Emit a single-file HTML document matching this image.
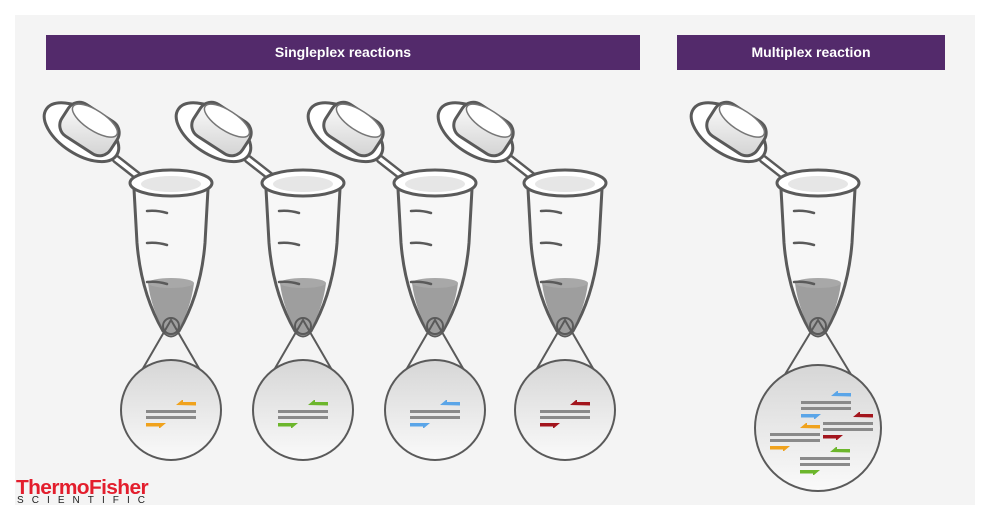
<!DOCTYPE html>
<html><head><meta charset="utf-8"><style>
html,body{margin:0;padding:0;background:#fff;}
svg{display:block;font-family:"Liberation Sans",sans-serif;}
</style></head><body>
<svg width="991" height="521" viewBox="0 0 991 521">
<defs>
<linearGradient id="circ" x1="0" y1="0" x2="0" y2="1"><stop offset="0" stop-color="#d6d6d6"/><stop offset="1" stop-color="#fafafa"/></linearGradient>
<linearGradient id="capg" x1="0" y1="0" x2="1" y2="1"><stop offset="0" stop-color="#fff"/><stop offset="1" stop-color="#d0d0d0"/></linearGradient>
<g id="tube">
  <!-- hinge -->
  <path d="M-55,-24 L-32,-6" stroke="#5a5a5a" stroke-width="9" stroke-linecap="round"/>
  <path d="M-55,-24 L-32,-6" stroke="#fff" stroke-width="4" stroke-linecap="round"/>
  <!-- cap -->
  <g transform="translate(-84,-52) rotate(33)">
    <ellipse cx="-4" cy="4" rx="42" ry="22" fill="#fff" stroke="#5a5a5a" stroke-width="3"/>
    <rect x="-28" y="-22" width="58" height="38" rx="13" fill="url(#capg)" stroke="#5a5a5a" stroke-width="3"/>
    <ellipse cx="1" cy="-13" rx="26" ry="10" fill="#fff" stroke="#777" stroke-width="1.5"/>
  </g>
  <!-- body -->
  <path d="M-37,6 L-34,60 Q-30,110 -8,148 Q0,158 8,148 Q30,110 34,60 L37,6 Z" fill="#f7f7f7" stroke="#5a5a5a" stroke-width="3"/>
  <path d="M-23,100 Q-20,125 -6,150 Q0,156 6,150 Q20,125 23,100 Z" fill="#8e8e8e" opacity="0.85"/>
  <ellipse cx="0" cy="100" rx="23" ry="5" fill="#a8a8a8"/>
  <circle cx="0" cy="143" r="8" fill="none" stroke="#5a5a5a" stroke-width="2"/>
  <!-- rim -->
  <ellipse cx="0" cy="0" rx="41" ry="13" fill="#fff" stroke="#5a5a5a" stroke-width="3"/>
  <ellipse cx="0" cy="1" rx="30" ry="8" fill="#e6e6e6"/>
  <path d="M-24,28 Q-14,27 -4,30 M-24,60 Q-14,59 -4,62 M-24,99 Q-14,98 -4,101" stroke="#5a5a5a" stroke-width="2.5" fill="none" stroke-linecap="round"/>
</g>
<g id="strand">
  <rect x="-25" y="-1" width="50" height="3" fill="#8a8a8a"/>
  <rect x="-25" y="5" width="50" height="3" fill="#8a8a8a"/>
</g>
</defs>
<rect x="0" y="0" width="991" height="521" fill="#fff"/>
<rect x="15" y="15" width="960" height="490" fill="#f4f4f4"/>
<rect x="46" y="35" width="594" height="35" fill="#532a6b"/>
<text x="343" y="57" fill="#fff" font-size="14" font-weight="bold" text-anchor="middle">Singleplex reactions</text>
<rect x="677" y="35" width="268" height="35" fill="#532a6b"/>
<text x="811" y="57" fill="#fff" font-size="14" font-weight="bold" text-anchor="middle">Multiplex reaction</text>

<g id="tubes"></g>
<g id="circles"></g>

<g>
<text x="16" y="494" fill="#e31e2d" font-size="20" font-weight="bold" letter-spacing="-0.6" textLength="132" lengthAdjust="spacingAndGlyphs">ThermoFisher</text>
<text x="17" y="503" fill="#222" font-size="10" textLength="128" lengthAdjust="spacing">SCIENTIFIC</text>
</g>
<script>
const tubeX=[171,303,435,565,818];
const colors=['#f0a21c','#6cb62c','#5aa5e8','#a3151d'];
const ns='http://www.w3.org/2000/svg';
const T=document.getElementById('tubes'),C=document.getElementById('circles');
function arrows(g,cx,cy,col){
  const a=document.createElementNS(ns,'path');
  a.setAttribute('d',`M${cx+5},${cy-6} l6,-5 h1 v2 h13 v3.5 z M${cx-25},${cy+12} h20 l-6,5 h-1 v-1.5 h-13 z`);
  a.setAttribute('fill',col);
  
  
  g.appendChild(a);
  const s=document.createElementNS(ns,'use');
  s.setAttribute('href','#strand');s.setAttribute('x',cx);s.setAttribute('y',cy);
  
  
  g.appendChild(s);
}
tubeX.forEach((x,i)=>{
  const multi=i===4, r=multi?63:50, cy=multi?428:410;
  const l=document.createElementNS(ns,'path');
  l.setAttribute('d',`M${x-r+6},${cy-14} L${x},320 L${x+r-6},${cy-14}`);
  l.setAttribute('stroke','#5a5a5a');l.setAttribute('stroke-width','2');l.setAttribute('fill','none');
  
  
  C.appendChild(l);
  const u=document.createElementNS(ns,'use');
  u.setAttribute('href','#tube');u.setAttribute('x',x);u.setAttribute('y',183);
  
  
  T.appendChild(u);
  const c=document.createElementNS(ns,'circle');
  c.setAttribute('cx',x);c.setAttribute('cy',cy);c.setAttribute('r',r);
  c.setAttribute('fill','url(#circ)');c.setAttribute('stroke','#5a5a5a');c.setAttribute('stroke-width','2');
  
  
  C.appendChild(c);
  if(!multi) arrows(C,x,cy+1,colors[i]);
  else{
    arrows(C,x+8,cy-26,colors[2]);
    arrows(C,x+30,cy-5,colors[3]);
    arrows(C,x-23,cy+6,colors[0]);
    arrows(C,x+7,cy+30,colors[1]);
  }
});
</script>
</svg>
</body></html>
